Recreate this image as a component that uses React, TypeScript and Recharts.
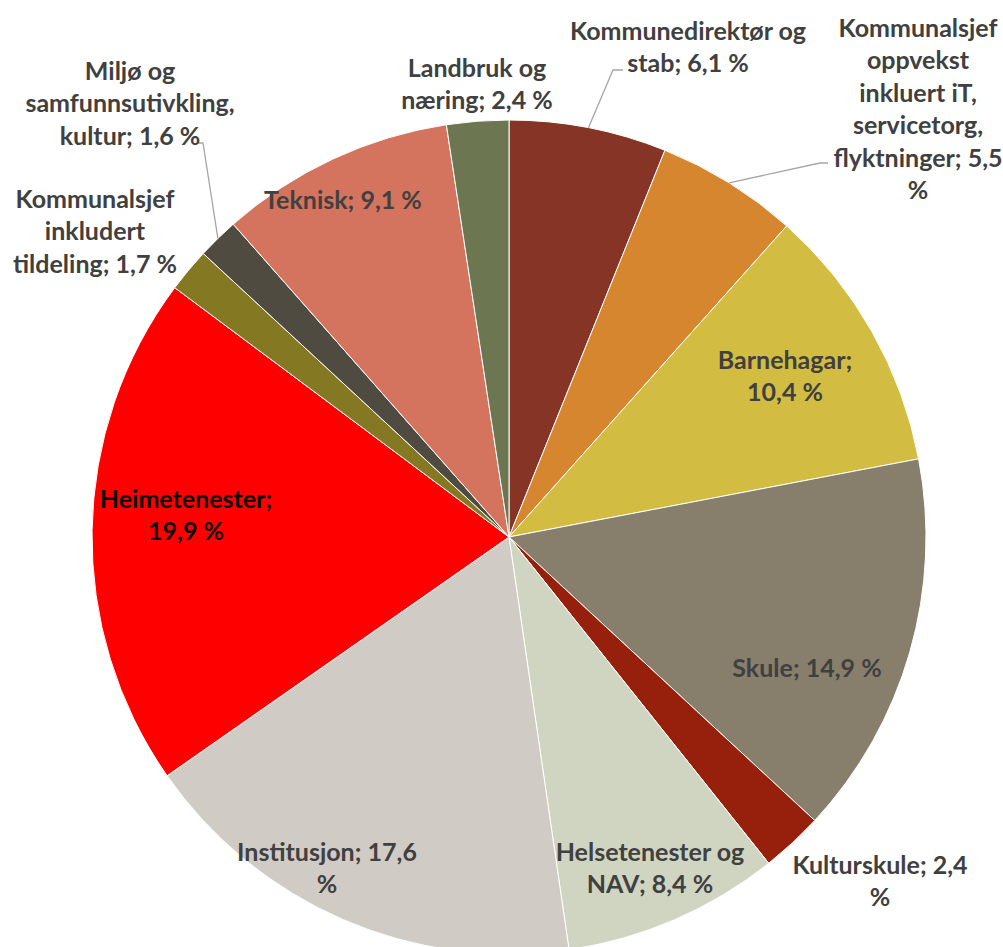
import React from "react";
import { PieChart, Pie, Cell } from "recharts";

const categories = [
  "Kommunedirektør og stab",
  "Kommunalsjef oppvekst inkluert iT, servicetorg, flyktninger",
  "Barnehagar",
  "Skule",
  "Kulturskule",
  "Helsetenester og NAV",
  "Institusjon",
  "Heimetenester",
  "Kommunalsjef inkludert tildeling",
  "Miljø og samfunnsutivkling, kultur",
  "Teknisk",
  "Landbruk og næring",
];

const shares = [6.1, 5.5, 10.4, 14.9, 2.4, 8.4, 17.6, 19.9, 1.7, 1.6, 9.1, 2.4];

const colors = [
  "#853425",
  "#D5862E",
  "#D2BD42",
  "#877F6C",
  "#97200C",
  "#CFD5C1",
  "#D0CBC4",
  "#FF0000",
  "#857822",
  "#4F4B40",
  "#D4735E",
  "#6C7752",
];

// words per label line
const wrap = [
  [2, 3],
  [1, 1, 2, 1, 2, 1],
  [1, 2],
  [3],
  [2, 1],
  [2, 3],
  [2, 1],
  [1, 2],
  [1, 1, 3],
  [2, 1, 3],
  [3],
  [2, 3],
];

// label centre relative to pie centre, optional leader elbow
const labelPos: { dx: number; dy: number; elbow?: [number, number, number] }[] = [
  { dx: 179, dy: -491, elbow: [104, -467, 114] },
  { dx: 409, dy: -429, elbow: [311, -374, 319] },
  { dx: 276, dy: -162 },
  { dx: 298, dy: 130 },
  { dx: 371, dy: 343 },
  { dx: 141, dy: 330 },
  { dx: -182, dy: 330 },
  { dx: -323, dy: -23 },
  { dx: -414, dy: -307 },
  { dx: -379, dy: -435, elbow: [-306, -394, -311] },
  { dx: -166, dy: -338 },
  { dx: -32, dy: -454 },
];

const data = categories.map((name, i) => ({ name, value: shares[i] }));

const RADIAN = Math.PI / 180;
const LINE_H = 32.5;

function renderLabel(props: any) {
  const { cx, cy, midAngle, outerRadius, index, name, value } = props;
  const pos = labelPos[index];
  const text = `${name}; ${Number(value).toFixed(1).replace(".", ",")} %`;
  const words = text.split(" ");
  const lines: string[] = [];
  let k = 0;
  for (const n of wrap[index]) {
    lines.push(words.slice(k, k + n).join(" "));
    k += n;
  }
  const x = cx + pos.dx;
  const y0 = cy + pos.dy - ((lines.length - 1) / 2) * LINE_H;
  let leader = null;
  if (pos.elbow) {
    const sx = cx + outerRadius * Math.cos(-midAngle * RADIAN);
    const sy = cy + outerRadius * Math.sin(-midAngle * RADIAN);
    const [ex, ey, hx] = pos.elbow;
    leader = (
      <polyline
        points={`${sx},${sy} ${cx + ex},${cy + ey} ${cx + hx},${cy + ey}`}
        fill="none"
        stroke="#a6a6a6"
        strokeWidth={1.3}
      />
    );
  }
  return (
    <g key={`lbl-${index}`}>
      {leader}
      <text
        x={x}
        y={y0}
        textAnchor="middle"
        dominantBaseline="central"
        fontFamily="Lato, sans-serif"
        fontWeight={700}
        fontSize={25}
        fill={index === 7 ? "#0d0d0d" : "#404040"}
      >
        {lines.map((l, i) => (
          <tspan key={i} x={x} dy={i === 0 ? 0 : LINE_H}>
            {l}
          </tspan>
        ))}
      </text>
    </g>
  );
}

export default function App() {
  return (
    <div style={{ position: "absolute", left: 0, top: 0, background: "#fff" }}>
      <PieChart
        width={1003}
        height={947}
        margin={{ top: 0, right: 0, bottom: 0, left: 0 }}
      >
        <Pie
          data={data}
          dataKey="value"
          nameKey="name"
          cx={509}
          cy={537}
          outerRadius={417}
          startAngle={90}
          endAngle={-270}
          stroke="#ffffff"
          strokeWidth={1}
          label={renderLabel}
          labelLine={false}
          isAnimationActive={false}
        >
          {data.map((d, i) => (
            <Cell key={d.name} fill={colors[i]} />
          ))}
        </Pie>
      </PieChart>
    </div>
  );
}
